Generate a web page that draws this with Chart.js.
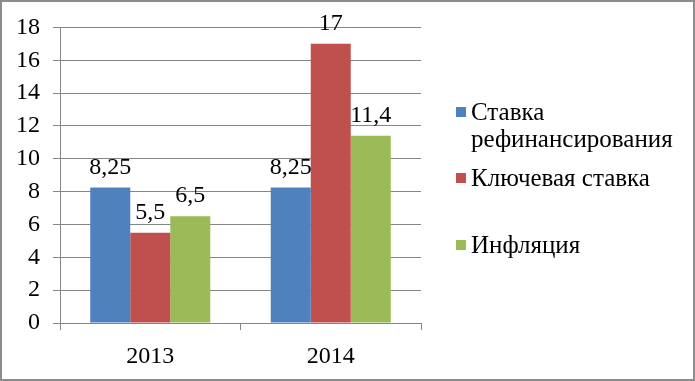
<!DOCTYPE html>
<html>
<head>
<meta charset="utf-8">
<script src="https://cdn.jsdelivr.net/npm/chart.js@4"></script>
<style>
  html, body { margin: 0; padding: 0; background: #fff; }
  canvas { display: block; }
</style>
</head>
<body>
<canvas id="rates" width="695" height="381"></canvas>
<script>
const years = ['2013', '2014'];
const refinancingRate = [8.25, 8.25];
const keyRate = [5.5, 17];
const inflation = [6.5, 11.4];
const seriesNames = ['Ставка рефинансирования', 'Ключевая ставка', 'Инфляция'];
const legendLines = [['Ставка', 'рефинансирования'], ['Ключевая ставка'], ['Инфляция']];
const yMax = 18;
const yStep = 2;

const FONT = "'Liberation Serif', 'DejaVu Serif', serif";
const GRID = '#868686';

// labels above each bar, with a decimal comma
const valueLabels = {
  id: 'valueLabels',
  afterDatasetsDraw(chart) {
    const ctx = chart.ctx;
    ctx.save();
    ctx.font = '24px ' + FONT;
    ctx.fillStyle = '#000';
    ctx.textAlign = 'center';
    ctx.textBaseline = 'alphabetic';
    chart.data.datasets.forEach((ds, i) => {
      chart.getDatasetMeta(i).data.forEach((bar, j) => {
        const txt = String(ds.data[j]).replace('.', ',');
        ctx.fillText(txt, bar.x, bar.y - 14);
      });
    });
    ctx.restore();
  }
};

// excel-like legend on the right, first item wraps onto two lines
const sideLegend = {
  id: 'sideLegend',
  afterDraw(chart) {
    const ctx = chart.ctx;
    const markerY = [112, 178, 245];
    ctx.save();
    ctx.font = '25px ' + FONT;
    ctx.textBaseline = 'alphabetic';
    ctx.textAlign = 'left';
    chart.data.datasets.forEach((ds, i) => {
      ctx.fillStyle = ds.backgroundColor;
      ctx.fillRect(456, markerY[i] - 5, 10, 10);
      ctx.fillStyle = '#000';
      legendLines[i].forEach((line, k) => {
        ctx.fillText(line, 471, markerY[i] + 8 + k * 27);
      });
    });
    ctx.restore();
  }
};

const frame = {
  id: 'frame',
  afterDraw(chart) {
    const ctx = chart.ctx;
    ctx.save();
    ctx.strokeStyle = '#8c8c8c';
    ctx.lineWidth = 2;
    ctx.strokeRect(1, 1, chart.width - 2, chart.height - 2);
    ctx.restore();
  }
};

function drawChart() {
  new Chart(document.getElementById('rates'), {
    type: 'bar',
    data: {
      labels: years,
      datasets: [
        { label: seriesNames[0], data: refinancingRate, backgroundColor: '#4F81BD' },
        { label: seriesNames[1], data: keyRate, backgroundColor: '#C0504D' },
        { label: seriesNames[2], data: inflation, backgroundColor: '#9BBB59' }
      ]
    },
    options: {
      responsive: false,
      animation: false,
      devicePixelRatio: 1,
      layout: { padding: { left: 0, top: 25, right: 274, bottom: 0 } },
      datasets: { bar: { categoryPercentage: 0.665, barPercentage: 1 } },
      plugins: {
        legend: { display: false },
        tooltip: { enabled: false }
      },
      scales: {
        x: {
          grid: { drawOnChartArea: false, drawTicks: true, tickLength: 7, color: GRID },
          border: { color: GRID, width: 1 },
          ticks: { color: '#000', font: { family: FONT, size: 24 }, padding: 12 },
          afterFit(scale) { scale.height = 58; }
        },
        y: {
          min: 0,
          max: yMax,
          ticks: { stepSize: yStep, color: '#000', font: { family: FONT, size: 24 }, padding: 13 },
          grid: { color: GRID, tickLength: 7 },
          border: { color: GRID, width: 1 },
          afterFit(scale) { scale.width = 60; }
        }
      }
    },
    plugins: [valueLabels, sideLegend, frame]
  });
}

document.fonts.load("24px 'Liberation Serif'", 'Ставка 2013').then(drawChart, drawChart);
</script>
</body>
</html>
